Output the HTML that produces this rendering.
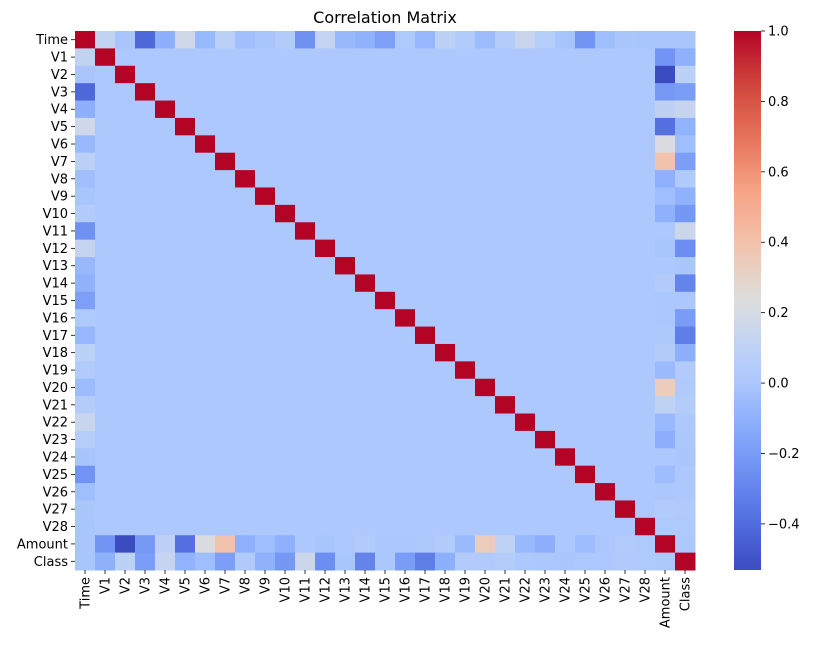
<!DOCTYPE html>
<html><head><meta charset="utf-8"><style>
body{margin:0;background:#fff;}
svg text{font-family:"DejaVu Sans","Liberation Sans",sans-serif;fill:#000;}
</style></head><body>
<svg id="c" width="826" height="641" xmlns="http://www.w3.org/2000/svg">
<defs><linearGradient id="cbg" x1="0" y1="1" x2="0" y2="0"></linearGradient></defs>
<text x="385" y="23" font-size="16" text-anchor="middle">Correlation Matrix</text>
<g id="cells"></g><g id="ylab"></g><g id="xlab"></g><g id="cbar"></g>
</svg>
<script>
const labels=["Time","V1","V2","V3","V4","V5","V6","V7","V8","V9","V10","V11","V12","V13","V14","V15","V16","V17","V18","V19","V20","V21","V22","V23","V24","V25","V26","V27","V28","Amount","Class"];
const timeCorr=[0.117,-0.011,-0.420,-0.105,0.173,-0.063,0.085,-0.037,-0.009,0.031,-0.248,0.124,-0.066,-0.099,-0.183,0.012,-0.073,0.090,0.029,-0.051,0.045,0.144,0.051,-0.016,-0.233,-0.041,-0.005,-0.009,-0.011,-0.012];
const amountCorr=[-0.228,-0.531,-0.211,0.099,-0.386,0.216,0.397,-0.103,-0.044,-0.102,0.000,-0.010,0.005,0.034,-0.003,-0.004,0.007,0.036,-0.056,0.339,0.106,-0.065,-0.113,0.005,-0.048,-0.003,0.029,0.010];
const classCorr=[-0.101,0.091,-0.193,0.133,-0.095,-0.044,-0.187,0.020,-0.098,-0.217,0.155,-0.261,-0.005,-0.303,-0.004,-0.197,-0.326,-0.111,0.035,0.020,0.040,0.001,-0.003,-0.007,0.003,0.004,0.018,0.010];
const amountClass=0.006;
const cbTicks=[1.0,0.8,0.6,0.4,0.2,0.0,-0.2,-0.4];
const vmin=-0.531,vmax=1.0;
const N=labels.length;
// build matrix
const M=[];for(let i=0;i<N;i++){M.push(new Array(N).fill(0));M[i][i]=1;}
for(let k=0;k<30;k++){M[0][k+1]=M[k+1][0]=timeCorr[k];}
for(let k=0;k<28;k++){M[29][k+1]=M[k+1][29]=amountCorr[k];M[30][k+1]=M[k+1][30]=classCorr[k];}
M[29][30]=M[30][29]=amountClass;
const stops=[[0,59,76,192],[0.1,85,114,226],[0.2,115,150,245],[0.3,150,183,254],[0.347,172,200,252],[0.4,186,208,248],[0.5,221,221,221],[0.6,241,196,174],[0.7,246,165,135],[0.8,230,116,90],[0.9,208,69,60],[1,180,4,38]];
function cmap(v){let t=(v-vmin)/(vmax-vmin);t=Math.max(0,Math.min(1,t));
for(let i=1;i<stops.length;i++){if(t<=stops[i][0]){const a=stops[i-1],b=stops[i],f=(t-a[0])/(b[0]-a[0]);
return `rgb(${Math.round(a[1]+f*(b[1]-a[1]))},${Math.round(a[2]+f*(b[2]-a[2]))},${Math.round(a[3]+f*(b[3]-a[3]))})`;}}return 'rgb(180,4,38)';}
const X0=75,Y0=31,W=620,H=539,cw=W/N,ch=H/N;
const xs=i=>X0+i*cw, ys=i=>Y0+i*ch;
const NS="http://www.w3.org/2000/svg";
function mk(t,a,p){const e=document.createElementNS(NS,t);for(const k in a)e.setAttribute(k,a[k]);p.appendChild(e);return e;}
const cells=document.getElementById('cells');
for(let i=0;i<N;i++)for(let j=0;j<N;j++){
 const r=mk('rect',{x:xs(j),y:ys(i),width:cw+0.5,height:ch+0.5,fill:cmap(M[i][j])},cells);
 
 
}
const yl=document.getElementById('ylab'),xl=document.getElementById('xlab');
labels.forEach((l,i)=>{
 const cy=ys(i)+ch/2;
 mk('line',{x1:X0-4,x2:X0,y1:cy,y2:cy,stroke:'#000','stroke-width':0.8},yl);
 const t=mk('text',{x:X0-7,y:cy+4.5,'font-size':13,'text-anchor':'end'},yl);t.textContent=l;
 
 
 const cx=xs(i)+cw/2;
 mk('line',{x1:cx,x2:cx,y1:Y0+H,y2:Y0+H+4,stroke:'#000','stroke-width':0.8},xl);
 const u=mk('text',{x:0,y:0,'font-size':13,'text-anchor':'end',transform:`translate(${cx+4.5},${Y0+H+7}) rotate(-90)`},xl);u.textContent=l;
 
 
});
const g=document.getElementById('cbg');
for(let k=0;k<=20;k++){const t=k/20;mk('stop',{offset:t,'stop-color':cmap(vmin+t*(vmax-vmin))},g);}
const cb=document.getElementById('cbar');
const CX=734,CW=27;
const cyv=v=>Y0+(vmax-v)/(vmax-vmin)*H;
const bar=mk('rect',{x:CX,y:Y0,width:CW,height:H,fill:'url(#cbg)'},cb);


cbTicks.forEach(v=>{const y=cyv(v);
 mk('line',{x1:CX+CW,x2:CX+CW+4,y1:y,y2:y,stroke:'#000','stroke-width':0.8},cb);
 const t=mk('text',{x:CX+CW+7,y:y+4.5,'font-size':13},cb);t.textContent=v<0?'\u2212'+Math.abs(v).toFixed(1):v.toFixed(1);
 
 
});
</script>
</body></html>
